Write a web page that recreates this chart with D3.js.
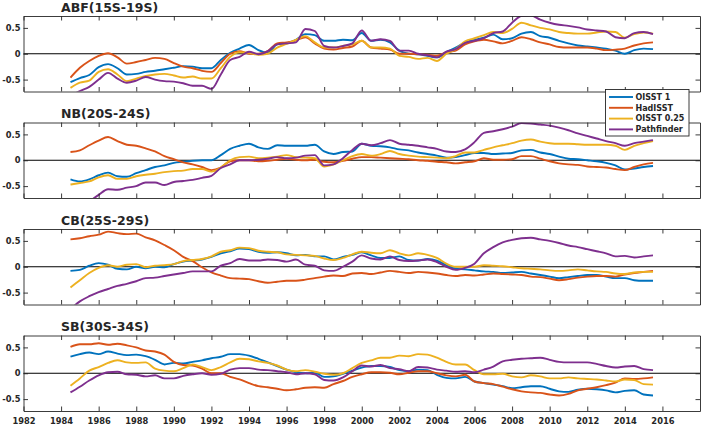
<!DOCTYPE html>
<html><head><meta charset="utf-8">
<script src="https://cdn.jsdelivr.net/npm/d3@7"></script>
<style>
body{margin:0;background:#fff}
svg{display:block}
text{font-family:"DejaVu Sans",sans-serif;font-weight:bold;fill:#262626}
</style>
</head><body>
<svg id="chart" width="703" height="427"></svg>
<script>
// time axis: half-yearly samples
const years = d3.range(1984.5, 2015.51, 0.5);
const seriesNames = ["OISST 1", "HadISST", "OISST 0.25", "Pathfinder"];
const panelTitles = ["ABF(15S-19S)", "NB(20S-24S)", "CB(25S-29S)", "SB(30S-34S)"];
const xTickYears = [1982,1984,1986,1988,1990,1992,1994,1996,1998,2000,2002,2004,2006,2008,2010,2012,2014,2016];
const yTickValues = [-0.5, 0, 0.5];

// ABF(15S-19S)
const abfOisst1 = [-0.55,-0.47,-0.41,-0.26,-0.2,-0.28,-0.4,-0.39,-0.35,-0.33,-0.3,-0.27,-0.24,-0.25,-0.28,-0.28,-0.12,0.02,0.1,0.17,0.07,0.02,0.18,0.2,0.27,0.38,0.36,0.25,0.25,0.27,0.26,0.4,0.25,0.27,0.22,0.06,0.0,-0.01,-0.04,-0.07,0.03,0.12,0.22,0.27,0.31,0.37,0.28,0.3,0.39,0.42,0.34,0.31,0.25,0.2,0.16,0.14,0.12,0.1,0.06,0.0,0.07,0.1,0.09];
const abfHadisst = [-0.46,-0.27,-0.14,-0.04,0.01,-0.07,-0.19,-0.16,-0.12,-0.08,-0.1,-0.18,-0.25,-0.28,-0.33,-0.35,-0.18,0.0,0.05,0.0,0.0,0.05,0.2,0.22,0.26,0.32,0.2,0.1,0.08,0.11,0.14,0.25,0.12,0.1,0.08,0.0,0.0,-0.01,-0.02,-0.04,0.03,0.06,0.18,0.24,0.27,0.24,0.2,0.25,0.32,0.28,0.22,0.18,0.13,0.12,0.12,0.12,0.1,0.07,0.08,0.1,0.16,0.2,0.22];
const abfOisst025 = [-0.66,-0.56,-0.52,-0.35,-0.3,-0.4,-0.53,-0.48,-0.43,-0.4,-0.39,-0.42,-0.46,-0.44,-0.48,-0.48,-0.28,-0.06,0.03,0.02,-0.02,0.0,0.12,0.19,0.27,0.34,0.22,0.12,0.12,0.15,0.18,0.25,0.12,0.12,0.1,-0.04,-0.06,-0.1,-0.08,-0.14,0.0,0.09,0.24,0.3,0.36,0.42,0.4,0.48,0.6,0.55,0.5,0.47,0.42,0.4,0.39,0.39,0.41,0.43,0.42,0.31,0.38,0.41,0.39];
const abfPathfinder = [-0.82,-0.72,-0.64,-0.5,-0.37,-0.48,-0.56,-0.52,-0.45,-0.5,-0.53,-0.54,-0.57,-0.62,-0.62,-0.68,-0.4,-0.12,-0.06,0.04,-0.01,0.05,0.18,0.2,0.22,0.48,0.44,0.15,0.12,0.15,0.2,0.45,0.25,0.28,0.25,0.06,0.06,0.0,-0.03,-0.07,0.04,0.09,0.21,0.25,0.3,0.4,0.43,0.6,0.73,0.74,0.66,0.6,0.56,0.54,0.51,0.47,0.45,0.43,0.32,0.3,0.4,0.42,0.38];

// NB(20S-24S)
const nbOisst1 = [-0.37,-0.41,-0.37,-0.29,-0.24,-0.31,-0.32,-0.25,-0.19,-0.13,-0.1,-0.05,-0.03,-0.01,0.0,0.0,0.1,0.22,0.28,0.32,0.25,0.22,0.29,0.28,0.28,0.28,0.3,0.17,0.12,0.16,0.17,0.32,0.28,0.27,0.25,0.21,0.19,0.15,0.12,0.09,0.05,0.06,0.1,0.14,0.14,0.12,0.13,0.14,0.19,0.2,0.15,0.12,0.07,0.03,0.02,0.0,-0.02,-0.05,-0.1,-0.18,-0.16,-0.13,-0.11];
const nbHadisst = [0.16,0.19,0.29,0.38,0.45,0.37,0.3,0.28,0.23,0.17,0.08,0.02,-0.04,-0.08,-0.13,-0.19,-0.14,-0.02,0.0,0.0,-0.02,-0.01,0.01,0.03,0.01,0.0,0.01,-0.03,-0.04,-0.01,0.03,0.06,0.06,0.05,0.04,0.03,0.02,0.0,-0.01,-0.03,-0.04,-0.06,-0.04,-0.02,0.04,0.01,0.01,0.02,0.08,0.08,0.03,-0.02,-0.06,-0.08,-0.09,-0.12,-0.13,-0.14,-0.17,-0.19,-0.13,-0.08,-0.05];
const nbOisst025 = [-0.47,-0.44,-0.41,-0.33,-0.29,-0.36,-0.36,-0.31,-0.28,-0.26,-0.23,-0.21,-0.2,-0.17,-0.17,-0.22,-0.14,0.0,0.06,0.07,0.04,0.05,0.07,0.1,0.06,0.05,0.04,-0.12,-0.08,0.0,0.08,0.12,0.09,0.12,0.18,0.12,0.09,0.07,0.06,0.05,0.04,0.08,0.15,0.15,0.2,0.25,0.29,0.33,0.38,0.4,0.36,0.33,0.32,0.32,0.31,0.3,0.3,0.3,0.28,0.2,0.28,0.33,0.37];
const nbPathfinder = [-1.0,-0.92,-0.8,-0.67,-0.56,-0.57,-0.53,-0.5,-0.43,-0.43,-0.48,-0.42,-0.4,-0.38,-0.34,-0.3,-0.15,-0.08,0.0,0.0,0.01,0.03,0.06,0.04,0.05,0.09,0.1,-0.1,-0.08,0.04,0.2,0.32,0.29,0.33,0.39,0.32,0.3,0.28,0.25,0.22,0.17,0.16,0.21,0.35,0.53,0.56,0.6,0.65,0.72,0.71,0.69,0.67,0.63,0.58,0.52,0.47,0.42,0.37,0.33,0.28,0.33,0.36,0.39];

// CB(25S-29S)
const cbOisst1 = [-0.08,-0.06,0.02,0.07,0.04,-0.04,-0.05,0.0,-0.03,0.0,-0.01,0.05,0.1,0.12,0.14,0.19,0.26,0.3,0.35,0.34,0.29,0.27,0.28,0.26,0.22,0.23,0.2,0.2,0.14,0.19,0.23,0.28,0.22,0.17,0.17,0.2,0.13,0.12,0.15,0.12,0.03,-0.04,-0.05,-0.07,-0.09,-0.1,-0.12,-0.11,-0.1,-0.13,-0.16,-0.19,-0.22,-0.2,-0.18,-0.16,-0.16,-0.19,-0.22,-0.22,-0.26,-0.27,-0.27];
const cbHadisst = [0.53,0.55,0.59,0.62,0.68,0.65,0.63,0.64,0.57,0.51,0.42,0.32,0.19,0.11,-0.01,-0.11,-0.17,-0.22,-0.23,-0.24,-0.28,-0.31,-0.29,-0.27,-0.27,-0.25,-0.22,-0.19,-0.17,-0.18,-0.13,-0.12,-0.14,-0.11,-0.08,-0.1,-0.12,-0.1,-0.11,-0.13,-0.16,-0.18,-0.16,-0.17,-0.15,-0.13,-0.14,-0.15,-0.16,-0.19,-0.2,-0.23,-0.26,-0.24,-0.21,-0.19,-0.18,-0.18,-0.19,-0.15,-0.12,-0.1,-0.08];
const cbOisst025 = [-0.4,-0.26,-0.12,-0.02,0.03,0.0,0.04,0.05,-0.01,0.02,0.03,0.05,0.11,0.13,0.15,0.2,0.29,0.32,0.37,0.36,0.31,0.29,0.28,0.24,0.23,0.22,0.21,0.16,0.13,0.17,0.24,0.29,0.27,0.26,0.32,0.26,0.22,0.26,0.23,0.17,0.06,0.0,0.0,0.0,0.03,0.02,0.01,-0.01,-0.03,-0.04,-0.05,-0.07,-0.08,-0.07,-0.05,-0.07,-0.09,-0.1,-0.13,-0.14,-0.11,-0.1,-0.1];
const cbPathfinder = [-0.82,-0.67,-0.57,-0.49,-0.43,-0.37,-0.33,-0.28,-0.22,-0.21,-0.18,-0.15,-0.12,-0.09,-0.09,-0.09,0.02,0.07,0.15,0.12,0.12,0.14,0.13,0.1,0.14,0.04,0.02,-0.07,-0.08,0.0,0.1,0.22,0.16,0.14,0.2,0.13,0.11,0.12,0.14,0.09,0.0,-0.06,-0.02,0.06,0.26,0.38,0.47,0.52,0.55,0.56,0.53,0.5,0.46,0.41,0.38,0.34,0.3,0.26,0.2,0.21,0.18,0.2,0.22];

// SB(30S-34S)
const sbOisst1 = [0.32,0.37,0.4,0.37,0.42,0.38,0.35,0.36,0.33,0.26,0.17,0.2,0.19,0.22,0.25,0.29,0.32,0.37,0.37,0.34,0.28,0.21,0.14,0.07,0.02,0.0,0.01,-0.07,-0.06,-0.01,0.05,0.11,0.14,0.14,0.12,0.06,0.04,0.07,0.06,-0.03,-0.09,-0.1,-0.07,-0.16,-0.19,-0.22,-0.25,-0.29,-0.27,-0.25,-0.25,-0.3,-0.35,-0.36,-0.32,-0.3,-0.31,-0.33,-0.37,-0.34,-0.33,-0.41,-0.43];
const sbHadisst = [0.51,0.56,0.56,0.58,0.55,0.57,0.54,0.5,0.44,0.42,0.36,0.22,0.16,0.15,0.09,0.0,0.0,-0.07,-0.12,-0.19,-0.25,-0.27,-0.3,-0.33,-0.31,-0.28,-0.27,-0.28,-0.21,-0.15,-0.07,-0.02,0.02,0.02,0.01,-0.02,0.01,0.04,0.04,0.0,-0.04,-0.06,-0.03,-0.16,-0.19,-0.21,-0.26,-0.31,-0.35,-0.37,-0.38,-0.41,-0.43,-0.4,-0.33,-0.3,-0.27,-0.23,-0.18,-0.1,-0.11,-0.1,-0.08];
const sbOisst025 = [-0.24,-0.1,0.05,0.12,0.2,0.25,0.21,0.2,0.21,0.09,0.05,0.04,0.1,0.17,0.12,0.06,0.12,0.21,0.28,0.27,0.23,0.2,0.15,0.07,0.04,0.06,0.03,-0.01,-0.03,0.0,0.1,0.2,0.25,0.3,0.3,0.34,0.33,0.37,0.36,0.3,0.22,0.17,0.17,0.06,-0.02,-0.02,-0.01,-0.06,-0.08,-0.04,-0.06,-0.1,-0.1,-0.08,-0.1,-0.11,-0.12,-0.14,-0.16,-0.12,-0.13,-0.21,-0.22];
const sbPathfinder = [-0.37,-0.26,-0.14,-0.04,0.02,0.03,-0.02,-0.03,-0.06,-0.04,-0.1,-0.1,-0.05,-0.02,0.0,-0.03,-0.01,0.07,0.1,0.1,0.07,0.06,0.04,0.02,-0.02,0.0,-0.02,-0.13,-0.14,-0.08,0.04,0.15,0.13,0.16,0.1,0.08,0.04,0.12,0.11,0.07,0.05,0.03,0.04,0.02,0.07,0.13,0.23,0.26,0.28,0.29,0.3,0.26,0.22,0.21,0.21,0.21,0.18,0.14,0.11,0.13,0.14,0.08,0.06];

const colors = ["#0072BD", "#D95319", "#EDB120", "#7E2F8E"];
const panels = [
  {title: panelTitles[0], series: [abfOisst1, abfHadisst, abfOisst025, abfPathfinder]},
  {title: panelTitles[1], series: [nbOisst1, nbHadisst, nbOisst025, nbPathfinder]},
  {title: panelTitles[2], series: [cbOisst1, cbHadisst, cbOisst025, cbPathfinder]},
  {title: panelTitles[3], series: [sbOisst1, sbHadisst, sbOisst025, sbPathfinder]}
];

const svg = d3.select("#chart");
const left = 23.5, right = 700;
const tops = [16, 122.5, 229, 335.5];
const ph = 75.5;
const axisColor = "#262626";

const x = d3.scaleLinear().domain([1982, 2018]).range([left, right]);
const fmtY = d => d === 0 ? "0" : (d < 0 ? "-" : "") + Math.abs(d).toFixed(1);

panels.forEach((p, pi) => {
  const top = tops[pi], bottom = top + ph;
  const y = d3.scaleLinear().domain([-0.73, 0.73]).range([bottom, top]);
  const g = svg.append("g");
  const clipId = "clip" + pi;
  svg.append("clipPath").attr("id", clipId)
    .append("rect").attr("x", left).attr("y", top).attr("width", right - left).attr("height", ph);

  // zero line
  g.append("line").attr("x1", left).attr("x2", right)
    .attr("y1", y(0)).attr("y2", y(0))
    .attr("stroke", "#000").attr("stroke-width", 1);

  const line = d3.line().x((d, i) => x(years[i])).y(d => y(d)).curve(d3.curveMonotoneX);
  const lg = g.append("g").attr("clip-path", `url(#${clipId})`);
  p.series.forEach((s, si) => {
    lg.append("path").datum(s).attr("d", line)
      .attr("fill", "none").attr("stroke", colors[si])
      .attr("stroke-width", 1.9).attr("stroke-linejoin", "round");
  });

  // axes (box with inward ticks)
  const axT = d3.axisTop(x).tickValues(xTickYears).tickSizeInner(-4.5).tickSizeOuter(0).tickFormat("");
  const axB = d3.axisBottom(x).tickValues(xTickYears).tickSizeInner(-4.5).tickSizeOuter(0).tickPadding(7)
    .tickFormat(pi === 3 ? d3.format("d") : "");
  const axL = d3.axisLeft(y).tickValues(yTickValues).tickSizeInner(-4.5).tickSizeOuter(0).tickPadding(3).tickFormat(fmtY);
  const axR = d3.axisRight(y).tickValues(yTickValues).tickSizeInner(-4.5).tickSizeOuter(0).tickFormat("");

  [[axT, `translate(0,${top})`], [axB, `translate(0,${bottom})`],
   [axL, `translate(${left},0)`], [axR, `translate(${right},0)`]].forEach(([ax, tr]) => {
    const a = g.append("g").attr("transform", tr).call(ax);
    a.selectAll("path,line").attr("stroke", axisColor).attr("stroke-width", 0.9);
    a.selectAll("text").attr("fill", axisColor).style("font-size", "8.3px").style("font-weight", "bold")
      .style("font-family", '"DejaVu Sans", sans-serif');
  });

  g.append("text").attr("x", 61).attr("y", top - 4.5)
    .style("font-size", "12.5px").text(p.title);
});

// legend
const lgX = 605.5, lgY = 89.5, lgW = 83.5, lgH = 46.5;
const leg = svg.append("g").attr("transform", `translate(${lgX},${lgY})`);
leg.append("rect").attr("width", lgW).attr("height", lgH)
  .attr("fill", "#fff").attr("stroke", axisColor).attr("stroke-width", 0.9);
seriesNames.forEach((name, i) => {
  const yy = 7.5 + i * 10.8;
  leg.append("line").attr("x1", 3.5).attr("x2", 27.5).attr("y1", yy).attr("y2", yy)
    .attr("stroke", colors[i]).attr("stroke-width", 1.9);
  leg.append("text").attr("x", 30).attr("y", yy).attr("dy", "0.35em")
    .style("font-size", "8px").text(name);
});
</script>
</body></html>
